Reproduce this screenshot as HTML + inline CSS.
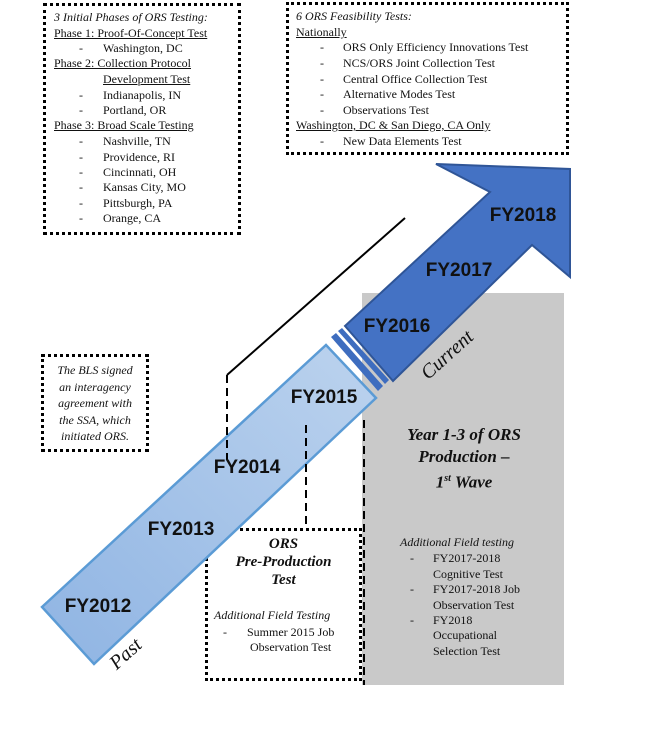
<!DOCTYPE html>
<html><head><meta charset="utf-8"><style>
body{margin:0;width:647px;height:755px;background:#fff;position:relative;overflow:hidden;font-family:"Liberation Serif",serif;color:#111}
.a{position:absolute;white-space:nowrap;font-size:12px;line-height:15px}
.u{text-decoration:underline}
.box{position:absolute;border:3px dotted #000;box-sizing:border-box}
.fy{position:absolute;font-family:"Liberation Sans",sans-serif;font-weight:bold;font-size:19px;transform:translate(-50%,-50%);white-space:nowrap}
.i{font-style:italic}
</style></head><body>
<div class="box" style="left:43px;top:3px;width:198px;height:232px"></div>
<div class="box" style="left:286px;top:2px;width:283px;height:153px"></div>
<div class="box" style="left:41px;top:354px;width:108px;height:98px"></div>
<div class="box" style="left:205px;top:528px;width:157px;height:153px"></div>
<svg width="647" height="755" style="position:absolute;left:0;top:0">
<defs>
<linearGradient id="g1" x1="0" y1="1" x2="1" y2="0"><stop offset="0" stop-color="#8fb4e3"/><stop offset="1" stop-color="#bcd3ee"/></linearGradient>
</defs>
<rect x="362" y="293" width="202" height="392" fill="#c9c9c9"/>
<polygon points="42,607 326,345 376,398 94,664" fill="url(#g1)" stroke="#5b9bd5" stroke-width="2.5"/>
<polygon points="331,337 336,333 383,386 378,391" fill="#3e6dbf"/>
<polygon points="338,331 342,328 389,380 385,384" fill="#3e6dbf"/>
<polygon points="345,326 490,192 436,164 570,169 570,277 532,245 393,381" fill="#4472c4" stroke="#2f5597" stroke-width="2"/>
<line x1="227" y1="375" x2="405" y2="218" stroke="#000" stroke-width="2"/>
<g stroke="#000" stroke-width="2" stroke-dasharray="8,5" fill="none">
<line x1="227" y1="375" x2="227" y2="460"/>
<line x1="306" y1="425" x2="306" y2="528"/>
<line x1="364" y1="420" x2="364" y2="685"/>
</g>
</svg>
<div class="fy" style="left:98px;top:607px">FY2012</div>
<div class="fy" style="left:181px;top:530px">FY2013</div>
<div class="fy" style="left:247px;top:468px">FY2014</div>
<div class="fy" style="left:324px;top:398px">FY2015</div>
<div class="fy" style="left:397px;top:327px">FY2016</div>
<div class="fy" style="left:459px;top:271px">FY2017</div>
<div class="fy" style="left:523px;top:216px">FY2018</div>
<div class="a i" style="left:108px;top:644px;font-size:20px;line-height:20px;transform:rotate(-42deg)">Past</div>
<div class="a i" style="left:416px;top:345px;font-size:20px;line-height:20px;transform:rotate(-42deg)">Current</div>

<div class="a i" style="left:54px;top:10px">3 Initial Phases of ORS Testing:</div>
<div class="a u" style="left:54px;top:26px">Phase 1: Proof-Of-Concept Test</div>
<div class="a" style="left:79px;top:41px">-</div><div class="a" style="left:103px;top:41px">Washington, DC</div>
<div class="a u" style="left:54px;top:56px">Phase 2: Collection Protocol</div>
<div class="a u" style="left:103px;top:72px">Development Test</div>
<div class="a" style="left:79px;top:88px">-</div><div class="a" style="left:103px;top:88px">Indianapolis, IN</div>
<div class="a" style="left:79px;top:103px">-</div><div class="a" style="left:103px;top:103px">Portland, OR</div>
<div class="a u" style="left:54px;top:118px">Phase 3: Broad Scale Testing</div>
<div class="a" style="left:79px;top:134px">-</div><div class="a" style="left:103px;top:134px">Nashville, TN</div>
<div class="a" style="left:79px;top:150px">-</div><div class="a" style="left:103px;top:150px">Providence, RI</div>
<div class="a" style="left:79px;top:165px">-</div><div class="a" style="left:103px;top:165px">Cincinnati, OH</div>
<div class="a" style="left:79px;top:180px">-</div><div class="a" style="left:103px;top:180px">Kansas City, MO</div>
<div class="a" style="left:79px;top:196px">-</div><div class="a" style="left:103px;top:196px">Pittsburgh, PA</div>
<div class="a" style="left:79px;top:211px">-</div><div class="a" style="left:103px;top:211px">Orange, CA</div>

<div class="a i" style="left:296px;top:9px">6 ORS Feasibility Tests:</div>
<div class="a u" style="left:296px;top:25px">Nationally</div>
<div class="a" style="left:320px;top:40px">-</div><div class="a" style="left:343px;top:40px">ORS Only Efficiency Innovations Test</div>
<div class="a" style="left:320px;top:56px">-</div><div class="a" style="left:343px;top:56px">NCS/ORS Joint Collection Test</div>
<div class="a" style="left:320px;top:72px">-</div><div class="a" style="left:343px;top:72px">Central Office Collection Test</div>
<div class="a" style="left:320px;top:87px">-</div><div class="a" style="left:343px;top:87px">Alternative Modes Test</div>
<div class="a" style="left:320px;top:103px">-</div><div class="a" style="left:343px;top:103px">Observations Test</div>
<div class="a u" style="left:296px;top:118px">Washington, DC &amp; San Diego, CA Only</div>
<div class="a" style="left:320px;top:134px">-</div><div class="a" style="left:343px;top:134px">New Data Elements Test</div>

<div class="a i" style="left:41px;width:108px;text-align:center;top:362px;line-height:16.5px">The BLS signed<br>an interagency<br>agreement with<br>the SSA, which<br>initiated ORS.</div>

<div class="a i" style="left:205px;width:157px;text-align:center;top:535px;font-size:15px;line-height:18px;font-weight:bold;white-space:normal">ORS<br>Pre-Production<br>Test</div>
<div class="a i" style="left:214px;top:608px">Additional Field Testing</div>
<div class="a" style="left:223px;top:625px">-</div><div class="a" style="left:247px;top:625px">Summer 2015 Job</div>
<div class="a" style="left:250px;top:640px">Observation Test</div>

<div class="a i" style="left:364px;width:200px;text-align:center;top:424px;font-size:17px;line-height:22px;font-weight:bold;white-space:normal">Year 1-3 of ORS<br>Production –<br>1<sup style="font-size:10px">st</sup> Wave</div>
<div class="a i" style="left:400px;top:535px">Additional Field testing</div>
<div class="a" style="left:410px;top:551px">-</div><div class="a" style="left:433px;top:551px">FY2017-2018</div>
<div class="a" style="left:433px;top:567px">Cognitive Test</div>
<div class="a" style="left:410px;top:582px">-</div><div class="a" style="left:433px;top:582px">FY2017-2018 Job</div>
<div class="a" style="left:433px;top:598px">Observation Test</div>
<div class="a" style="left:410px;top:613px">-</div><div class="a" style="left:433px;top:613px">FY2018</div>
<div class="a" style="left:433px;top:628px">Occupational</div>
<div class="a" style="left:433px;top:644px">Selection Test</div>
</body></html>
